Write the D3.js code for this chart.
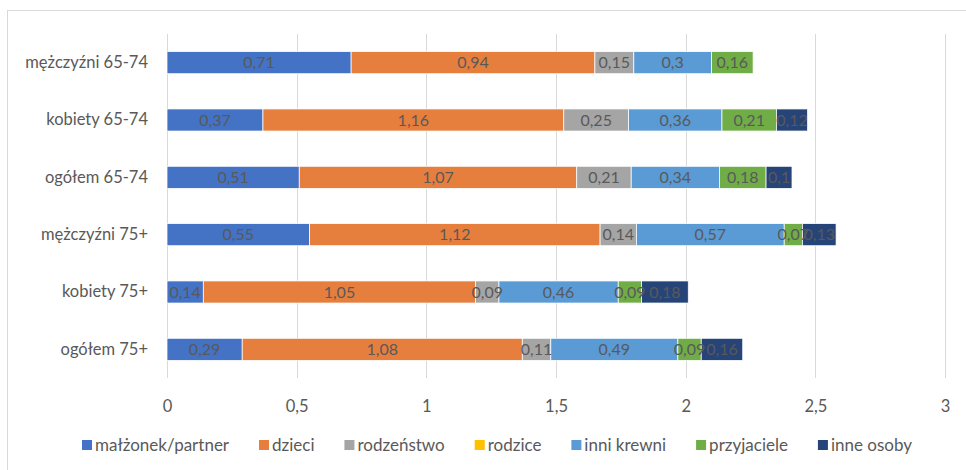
<!DOCTYPE html>
<html>
<head>
<meta charset="utf-8">
<script src="https://cdn.jsdelivr.net/npm/d3@7/dist/d3.min.js"></script>
<style>
  html, body { margin: 0; padding: 0; background: #fff; }
  svg { display: block; }
  text { font-family: Lato, "Open Sans", sans-serif; fill: #595959; }
</style>
</head>
<body>
<svg id="chart" width="966" height="470"></svg>
<script>
// Categories (top to bottom)
const categories = ["mężczyźni 65-74", "kobiety 65-74", "ogółem 65-74", "mężczyźni 75+", "kobiety 75+", "ogółem 75+"];

// Series, in stacking order
const seriesNames = ["małżonek/partner", "dzieci", "rodzeństwo", "rodzice", "inni krewni", "przyjaciele", "inne osoby"];
const seriesColors = ["#4472C4", "#E67F3E", "#A5A5A5", "#FFC000", "#5B9BD5", "#70AD47", "#264478"];

// Values per series, aligned with categories (null = no value)
const malzonek    = [0.71, 0.37, 0.51, 0.55, 0.14, 0.29];
const dzieci      = [0.94, 1.16, 1.07, 1.12, 1.05, 1.08];
const rodzenstwo  = [0.15, 0.25, 0.21, 0.14, 0.09, 0.11];
const rodzice     = [null, null, null, null, null, null];
const inniKrewni  = [0.30, 0.36, 0.34, 0.57, 0.46, 0.49];
const przyjaciele = [0.16, 0.21, 0.18, 0.07, 0.09, 0.09];
const inneOsoby   = [null, 0.12, 0.10, 0.13, 0.18, 0.16];

const xTicks = [0, 0.5, 1, 1.5, 2, 2.5, 3];

const seriesValues = [malzonek, dzieci, rodzenstwo, rodzice, inniKrewni, przyjaciele, inneOsoby];

const fmt = v => String(+v.toFixed(2)).replace(".", ",");

const svg = d3.select("#chart");

// chart frame
svg.append("rect")
  .attr("x", 7.5).attr("y", 10.5)
  .attr("width", 1000).attr("height", 1000)
  .attr("fill", "none").attr("stroke", "#d9d9d9").attr("stroke-width", 1);

const plot = { left: 167, right: 945, top: 34, bottom: 378 };

const x = d3.scaleLinear().domain([0, 3]).range([plot.left, plot.right]);
const y = d3.scaleBand().domain(categories).range([plot.top, plot.bottom]).paddingInner(0.615).paddingOuter(0.3075);

// gridlines
svg.append("g").selectAll("line").data(xTicks).join("line")
  .attr("x1", d => Math.round(x(d)) + 0.5).attr("x2", d => Math.round(x(d)) + 0.5)
  .attr("y1", plot.top).attr("y2", plot.bottom)
  .attr("stroke", "#d9d9d9").attr("stroke-width", 1);

// x axis tick labels
const xAxis = d3.axisBottom(x).tickValues(xTicks).tickSize(0).tickPadding(0).tickFormat(fmt);
const gx = svg.append("g").attr("transform", `translate(0,${plot.bottom + 34})`).call(xAxis);
gx.select(".domain").remove();
gx.selectAll("text").attr("font-size", 16.5).attr("dy", 0).style("font-family", "Lato, sans-serif").attr("fill", "#595959");

// y axis category labels
const yAxis = d3.axisLeft(y).tickSize(0).tickPadding(19);
const gy = svg.append("g").attr("transform", `translate(${plot.left},0)`).call(yAxis);
gy.select(".domain").remove();
gy.selectAll("text").attr("font-size", 16.5).style("font-family", "Lato, sans-serif").attr("fill", "#595959");

// stacked data
const rows = categories.map((c, i) => {
  const r = { cat: c };
  seriesNames.forEach((s, j) => { r[s] = seriesValues[j][i] || 0; });
  return r;
});
const stack = d3.stack().keys(seriesNames)(rows);

const layers = svg.append("g").selectAll("g").data(stack).join("g")
  .attr("fill", (d, i) => seriesColors[i]);

layers.selectAll("rect").data(d => d.map(p => ({ p, key: d.key }))).join("rect")
  .filter(d => d.p[1] - d.p[0] > 0)
  .attr("x", d => x(d.p[0]))
  .attr("y", d => y(d.p.data.cat))
  .attr("width", d => x(d.p[1]) - x(d.p[0]))
  .attr("height", y.bandwidth())
  .attr("stroke", "#ffffff").attr("stroke-width", 0.75);

// data labels
const labels = svg.append("g");
stack.forEach((layer, j) => {
  layer.forEach((p, i) => {
    const v = seriesValues[j][i];
    if (v == null) return;
    labels.append("text")
      .attr("x", x((p[0] + p[1]) / 2))
      .attr("y", y(p.data.cat) + y.bandwidth() / 2)
      .attr("dy", "0.36em")
      .attr("text-anchor", "middle")
      .attr("font-size", 16)
      .attr("fill", "#595959")
      .text(fmt(v));
  });
});

// legend: items spread evenly between the outer edges
const legendLeft = 82, legendRight = 912;
const legend = svg.append("g").attr("transform", "translate(0,445)");
const itemGroups = seriesNames.map((s, i) => {
  const g = legend.append("g");
  g.append("rect").attr("x", 0).attr("y", -5).attr("width", 10).attr("height", 10).attr("fill", seriesColors[i]);
  const t = g.append("text").attr("x", 13).attr("y", 0).attr("dy", "0.36em").attr("font-size", 17).text(s);
  return { g, w: 13 + t.node().getComputedTextLength() };
});
const totalW = d3.sum(itemGroups, d => d.w);
const gap = (legendRight - legendLeft - totalW) / (itemGroups.length - 1);
let lx = legendLeft;
itemGroups.forEach(it => {
  it.g.attr("transform", `translate(${lx},0)`);
  lx += it.w + gap;
});
</script>
</body>
</html>
